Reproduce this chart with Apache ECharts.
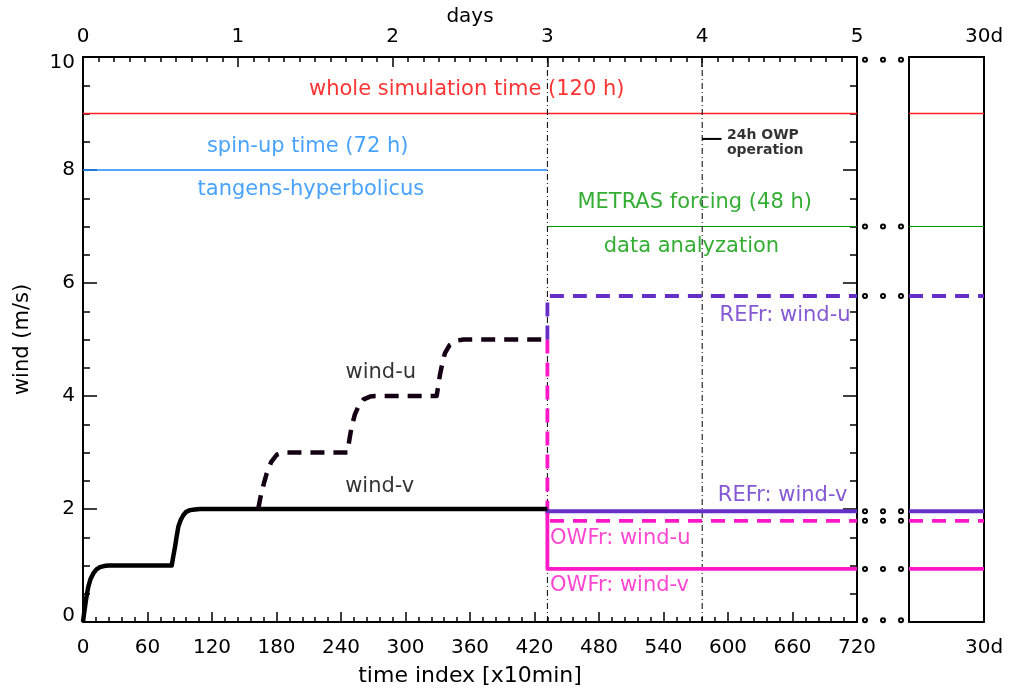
<!DOCTYPE html>
<html>
<head>
<meta charset="utf-8">
<script src="https://cdn.jsdelivr.net/npm/echarts@6/dist/echarts.min.js"></script>
<style>html,body{margin:0;padding:0;background:#fff}#c{width:1010px;height:691px}</style>
</head>
<body>
<div id="c"></div>
<script>
// ---------- data ----------
const xTicks = [0, 60, 120, 180, 240, 300, 360, 420, 480, 540, 600, 660, 720];
const dayTicks = [0, 1, 2, 3, 4, 5];
const yTicks = [0, 2, 4, 6, 8, 10];
// wind-v (solid black) [time index, m/s]
const windV = [[0,0],[1,0.15],[1.9,0.27],[3,0.42],[4.9,0.62],[7,0.76],[9.6,0.86],[12.5,0.93],[15.8,0.97],[19.5,0.99],[23.6,1.0],
  [82.5,1.0],[84,1.16],[85.6,1.33],[87,1.5],[88.7,1.69],[91,1.81],[93.3,1.89],[96,1.95],[99.5,1.98],[104,1.99],[108.8,2.0],[432,2.0]];
// wind-u (dashed black), departs from wind-v at ~163
const windU = [[163,2.0],[165,2.2],[167.5,2.4],[170.9,2.63],[175,2.83],[180.2,2.96],[185,2.99],[190,3.0],
  [246,3.0],[248,3.25],[249.9,3.46],[253,3.68],[256.1,3.81],[261,3.94],[267,3.99],[272,4.0],
  [329,4.0],[332,4.37],[334.5,4.6],[336.7,4.76],[341,4.9],[347.6,4.98],[354,5.0],[432,5.0]];
// runs after the 72 h spin-up
const refU = [[432,5.0],[432,5.77],[720,5.77]];
const refV = [[432,2.0],[432,1.96],[720,1.96]];
const owfU = [[432,5.0],[432,1.79],[720,1.79]];
const owfV = [[432,2.0],[432,0.94],[720,0.94]];
// periods
const wholeSim = [[0,9],[720,9]];
const spinUp = [[0,8],[432,8]];
const metras = [[432,7],[720,7]];
const dayMarks = [432, 576];
const owpMark = [[576,8.55],[594,8.55]];
// 30 d panel levels
const panelLevels = {whole: 9, metras: 7, refU: 5.77, refV: 1.96, owfU: 1.79, owfV: 0.94};
const dotLevels = [9.95, 7, 5.77, 1.96, 1.79, 0.94, 0.03];
const dotX = [8, 26, 44];

// ---------- style ----------
const RED = '#ff2020', BLUE = '#1a8cff', GREEN = '#009a00', PURPLE = '#6630c8', MAGENTA = '#ff18c8';
const FONT = 'DejaVu Sans';

const labels = [
  {v:[357,9.42], t:'whole simulation time (120 h)', c:'#ff0000', a:'center'},
  {v:[209,8.42], t:'spin-up time (72 h)', c:BLUE, a:'center'},
  {v:[212,7.65], t:'tangens-hyperbolicus', c:BLUE, a:'center'},
  {v:[569,7.42], t:'METRAS forcing (48 h)', c:GREEN, a:'center'},
  {v:[566,6.64], t:'data analyzation', c:GREEN, a:'center'},
  {v:[714,5.43], t:'REFr: wind-u', c:PURPLE, a:'right'},
  {v:[711,2.23], t:'REFr: wind-v', c:PURPLE, a:'right'},
  {v:[434.5,1.47], t:'OWFr: wind-u', c:MAGENTA, a:'left'},
  {v:[434.5,0.64], t:'OWFr: wind-v', c:MAGENTA, a:'left'},
  {v:[277,4.41], t:'wind-u', c:'#000', a:'center'},
  {v:[276,2.39], t:'wind-v', c:'#000', a:'center'},
  {v:[599,8.62], t:'24h OWP', c:'#000', a:'left', s:14, b:'bold'},
  {v:[599,8.34], t:'operation', c:'#000', a:'left', s:14, b:'bold'}
];

function line(data, color, width, type, xi, yi, z) {
  return {type:'line', data, xAxisIndex:xi||0, yAxisIndex:yi||0, showSymbol:false, symbol:'none',
    lineStyle:{color, width, type:type||'solid', cap:'butt', join:'round'}, z:z||2, silent:true, animation:false};
}

const series = [];
series.push(line(wholeSim, RED, 1.5));
series.push(line(spinUp, BLUE, 1.5));
series.push(line(metras, GREEN, 1.2));
dayMarks.forEach(d => series.push(line([[d,0],[d,10]], '#000', 1, [6,3,1,3])));
series.push(line(owpMark, '#000', 2));
series.push(line(owfV, MAGENTA, 3.8, 'solid', 0, 0, 3));
series.push(line(owfU, MAGENTA, 3.8, [14,9], 0, 0, 3));
series.push(line(refV, PURPLE, 3.8, 'solid', 0, 0, 4));
series.push(line(refU, PURPLE, 3.8, [14,9], 0, 0, 4));
series.push(line(windV, '#000', 4.5, 'solid', 0, 0, 5));
series.push(line(windU, '#140014', 4.5, [14,9], 0, 0, 5));

// panel (30 d)
series.push(line([[0,panelLevels.whole],[1,panelLevels.whole]], RED, 1.5, 'solid', 2, 2));
series.push(line([[0,panelLevels.metras],[1,panelLevels.metras]], GREEN, 1.2, 'solid', 2, 2));
series.push(line([[0,panelLevels.refU],[1,panelLevels.refU]], PURPLE, 3.8, [14,9], 2, 2));
series.push(line([[0,panelLevels.refV],[1,panelLevels.refV]], PURPLE, 3.8, 'solid', 2, 2));
series.push(line([[0,panelLevels.owfU],[1,panelLevels.owfU]], MAGENTA, 3.8, [14,9], 2, 2));
series.push(line([[0,panelLevels.owfV],[1,panelLevels.owfV]], MAGENTA, 3.8, 'solid', 2, 2));

// connecting dots (gap grid)
const dots = [];
dotLevels.forEach(y => dotX.forEach(x => dots.push([x, y])));
series.push({type:'scatter', data:dots, xAxisIndex:4, yAxisIndex:4, clip:false, symbol:'emptyCircle', symbolSize:4,
  itemStyle:{color:'#000', borderColor:'#000', borderWidth:1.2, opacity:1}, silent:true, animation:false, z:6});

// text labels
series.push({type:'scatter', xAxisIndex:0, yAxisIndex:0, symbolSize:0, silent:true, animation:false, z:7,
  data: labels.map(l => ({value:l.v, label:{show:true, position:'inside', formatter:l.t, color:l.c, align:l.a,
    verticalAlign:'middle', fontSize:l.s||21, fontWeight:l.b||'normal', fontFamily:FONT}}))});

const axisLine = {show:true, onZero:false, lineStyle:{color:'#000', width:2}};
const lbl = {color:'#000', fontSize:20, fontFamily:FONT};
const hidden = {show:false};

const option = {
  animation:false,
  backgroundColor:'#fff',
  grid:[
    {left:83, top:57, width:774, height:565, outerBoundsMode:'none', containLabel:false},
    {left:909, top:57, width:75, height:565, outerBoundsMode:'none', containLabel:false},
    {left:857, top:57, width:52, height:565, outerBoundsMode:'none', containLabel:false}
  ],
  xAxis:[
    {gridIndex:0, type:'value', position:'bottom', min:0, max:720, interval:60, axisLine,
     axisTick:{inside:true, length:10, lineStyle:{color:'#000', width:1.5}},
     minorTick:{show:true, splitNumber:5, length:5, lineStyle:{color:'#000', width:1.5}},
     splitLine:{show:false}, axisLabel:{...lbl, margin:16, showMaxLabel:true, showMinLabel:true},
     name:'time index [x10min]', nameLocation:'middle', nameGap:43, nameMoveOverlap:false,
     nameTextStyle:{color:'#000', fontSize:22, fontFamily:FONT}},
    {gridIndex:0, type:'value', position:'top', min:0, max:5, interval:1, axisLine,
     axisTick:{inside:true, length:10, lineStyle:{color:'#000', width:1.5}},
     minorTick:{show:true, splitNumber:10, length:5, lineStyle:{color:'#000', width:1.5}},
     splitLine:{show:false}, axisLabel:{...lbl, margin:10, showMaxLabel:true},
     name:'days', nameLocation:'middle', nameGap:30, nameMoveOverlap:false,
     nameTextStyle:{color:'#000', fontSize:20, fontFamily:FONT}},
    {gridIndex:1, type:'value', position:'bottom', min:0, max:1, interval:1, axisLine,
     axisTick:{show:false}, splitLine:{show:false},
     axisLabel:{...lbl, margin:16, showMaxLabel:true, formatter:v => v === 1 ? '30d' : ''}},
    {gridIndex:1, type:'value', position:'top', min:0, max:1, interval:1, axisLine,
     axisTick:{show:false}, splitLine:{show:false},
     axisLabel:{...lbl, margin:10, showMaxLabel:true, formatter:v => v === 1 ? '30d' : ''}},
    {gridIndex:2, type:'value', min:0, max:52, show:false, axisLine:hidden, axisTick:hidden, axisLabel:hidden, splitLine:hidden}
  ],
  yAxis:[
    {gridIndex:0, type:'value', position:'left', min:0, max:10, interval:2, axisLine,
     axisTick:{inside:true, length:14, lineStyle:{color:'#000', width:1.5}},
     minorTick:{show:true, splitNumber:4, length:7, lineStyle:{color:'#000', width:1.5}},
     splitLine:{show:false},
     axisLabel:{...lbl, margin:8,
       formatter:v => v === 10 ? '{t|10}' : (v === 0 ? '{b|0}' : String(v)),
       rich:{t:{...lbl, padding:[12,0,0,0]}, b:{...lbl, padding:[0,0,12,0]}}},
     name:'wind (m/s)', nameLocation:'middle', nameGap:50, nameMoveOverlap:false,
     nameTextStyle:{color:'#000', fontSize:21, fontFamily:FONT}},
    {gridIndex:0, type:'value', position:'right', min:0, max:10, interval:2, axisLine,
     axisTick:{inside:true, length:14, lineStyle:{color:'#000', width:1.5}},
     minorTick:{show:true, splitNumber:4, length:7, lineStyle:{color:'#000', width:1.5}},
     splitLine:{show:false}, axisLabel:{show:false}},
    {gridIndex:1, type:'value', position:'left', min:0, max:10, interval:2, axisLine,
     axisTick:{show:false}, splitLine:{show:false}, axisLabel:{show:false}},
    {gridIndex:1, type:'value', position:'right', min:0, max:10, interval:2, axisLine,
     axisTick:{show:false}, splitLine:{show:false}, axisLabel:{show:false}},
    {gridIndex:2, type:'value', min:0, max:10, show:false, axisLine:hidden, axisTick:hidden, axisLabel:hidden, splitLine:hidden}
  ],
  series
};
const chart = echarts.init(document.getElementById('c'), null, {renderer:'canvas'});
chart.setOption(option);
</script>
</body>
</html>
